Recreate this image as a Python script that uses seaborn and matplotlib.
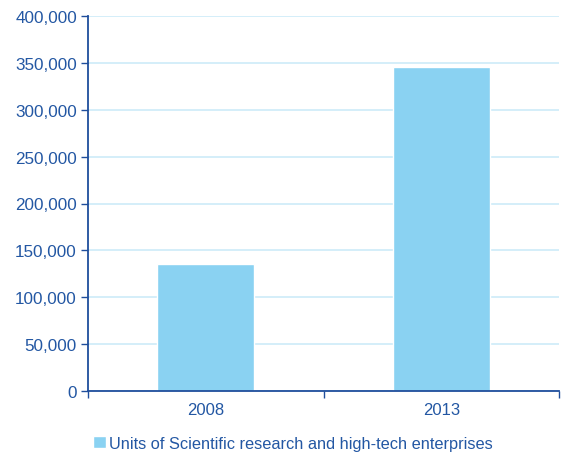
import matplotlib
matplotlib.use("Agg")
import matplotlib.pyplot as plt
import matplotlib.ticker as mticker
import seaborn as sns
import pandas as pd

years = ["2008", "2013"]
units = [136000, 345700]
series_name = "Units of Scientific research and high-tech enterprises"
y_ticks = [0, 50000, 100000, 150000, 200000, 250000, 300000, 350000, 400000]

BAR_COLOR = "#8AD2F2"
TEXT_COLOR = "#2357A3"
AXIS_COLOR = "#1F4E9C"
GRID_COLOR = "#CDEBF8"

sns.set_theme(style="white")
plt.rcParams["font.family"] = ["Liberation Sans", "DejaVu Sans"]

df = pd.DataFrame({"year": years, "units": units})

fig = plt.figure(figsize=(5.63, 4.56), dpi=100)
ax = fig.add_axes([88 / 563, 1 - 392 / 456, (559 - 88) / 563, (392 - 17) / 456])

sns.barplot(data=df, x="year", y="units", color=BAR_COLOR, width=0.41,
            saturation=1, ax=ax, zorder=2, label=series_name)

ax.set_ylim(0, 400000)
ax.set_xlim(-0.5, 1.5)
ax.set_yticks(y_ticks)
ax.yaxis.set_major_formatter(mticker.FuncFormatter(lambda v, p: f"{int(v):,}"))
ax.yaxis.grid(True, color=GRID_COLOR, linewidth=1.2, zorder=0)
ax.set_axisbelow(True)

# category boundary ticks on the x axis
ax.set_xticks([0, 1])
ax.set_xticks([-0.5, 0.5, 1.5], minor=True)
ax.tick_params(axis="x", which="major", length=0, pad=8, labelsize=12, labelcolor=TEXT_COLOR)
ax.tick_params(axis="x", which="minor", length=5, width=1, color=AXIS_COLOR, direction="out", bottom=True)
ax.tick_params(axis="y", length=5, width=1, color=AXIS_COLOR, direction="out", left=True,
               labelsize=12.3, labelcolor=TEXT_COLOR, pad=3)

for s in ["top", "right"]:
    ax.spines[s].set_visible(False)
for s in ["left", "bottom"]:
    ax.spines[s].set_color(AXIS_COLOR)
    ax.spines[s].set_linewidth(1.3)

ax.set_xlabel("")
ax.set_ylabel("")

leg = ax.legend(loc="upper left", bbox_to_anchor=(-0.02, -0.08), frameon=False,
                handlelength=0.75, handleheight=0.75, handletextpad=0.2,
                fontsize=11.8, labelcolor=TEXT_COLOR)

fig.savefig("out.png", dpi=100)
